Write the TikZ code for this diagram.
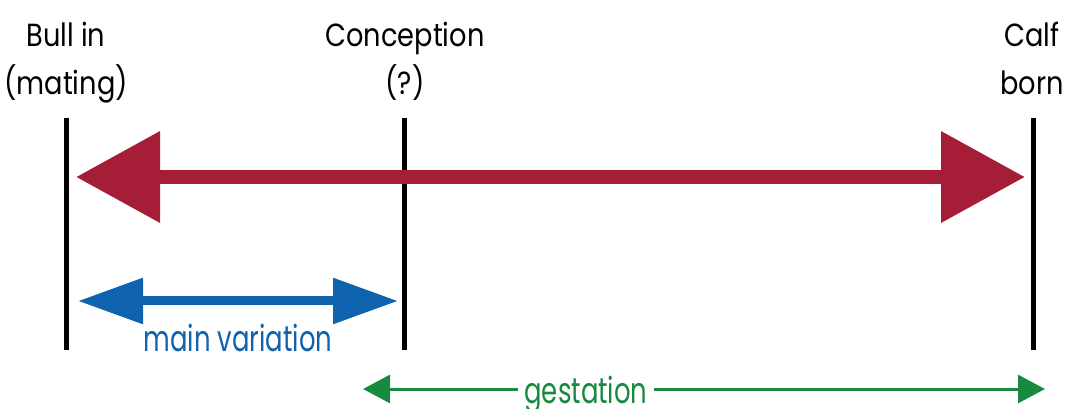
\documentclass[tikz,border=0pt]{standalone}
\usepackage{fontspec}
\setmainfont{Poppins}
\newfontfamily\labfont{Poppins}[FakeStretch=0.85]
\newfontfamily\colfont{Poppins}[FakeStretch=0.72]
\usetikzlibrary{arrows.meta}
\definecolor{bigred}{HTML}{A51D36}
\definecolor{varblue}{HTML}{0F62AE}
\definecolor{gesgreen}{HTML}{188A3F}
\tikzset{
  event/.style={line width=3.75pt, black},
  evlabel/.style={font=\labfont\fontsize{24pt}{36pt}\selectfont, align=center, anchor=base, inner sep=0pt},
  redarrow/.style={bigred, line width=10.5pt, {Triangle[length=63pt,width=66pt]}-{Triangle[length=63pt,width=66pt]}},
  bluearrow/.style={varblue, line width=6.75pt, {Triangle[length=48.75pt,width=33pt]}-{Triangle[length=48.75pt,width=33pt]}},
  greenarrow/.style={gesgreen, line width=2.25pt, {Triangle[length=20.25pt,width=21pt]}-{Triangle[length=20.25pt,width=21pt]}},
  spanlabel/.style={font=\colfont\fontsize{27pt}{30pt}\selectfont, anchor=base, inner sep=0pt}
}
\begin{document}
\begin{tikzpicture}[x=0.75pt,y=-0.75pt]
\useasboundingbox (0,0) rectangle (1070,409);
% event lines
\coordinate (bullT) at (66,118);  \coordinate (bullB) at (66,350);
\coordinate (concT) at (404,118); \coordinate (concB) at (404,350);
\coordinate (calfT) at (1033,118); \coordinate (calfB) at (1033,350);
\draw[event] (bullT) -- (bullB);
\draw[event] (concT) -- (concB);
\draw[event] (calfT) -- (calfB);
% labels (anchor at baseline of the last line)
\node[evlabel] (bull) at (66,95) {Bull in\\(mating)};
\node[evlabel] (conc) at (405,95) {Conception\\(?)};
\node[evlabel] (calf) at (1032,95) {Calf\\born};
% red arrow
\coordinate (rl) at (76,177);
\coordinate (rr) at (1025,177);
\draw[redarrow] (rl) -- (rr);
% blue arrow
\coordinate (bl) at (78,301);
\coordinate (br) at (398,301);
\draw[bluearrow] (bl) -- (br);
\node[spanlabel, varblue] (mv) at (238,352) {main variation};
% green arrow
\coordinate (gl) at (363,389);
\coordinate (gr) at (1045,389);
\draw[greenarrow] (gl) -- (gr);
\node[spanlabel, gesgreen, fill=white, inner xsep=5pt, inner ysep=0pt] (gest) at (586,403) {gestation};
\end{tikzpicture}
\end{document}
